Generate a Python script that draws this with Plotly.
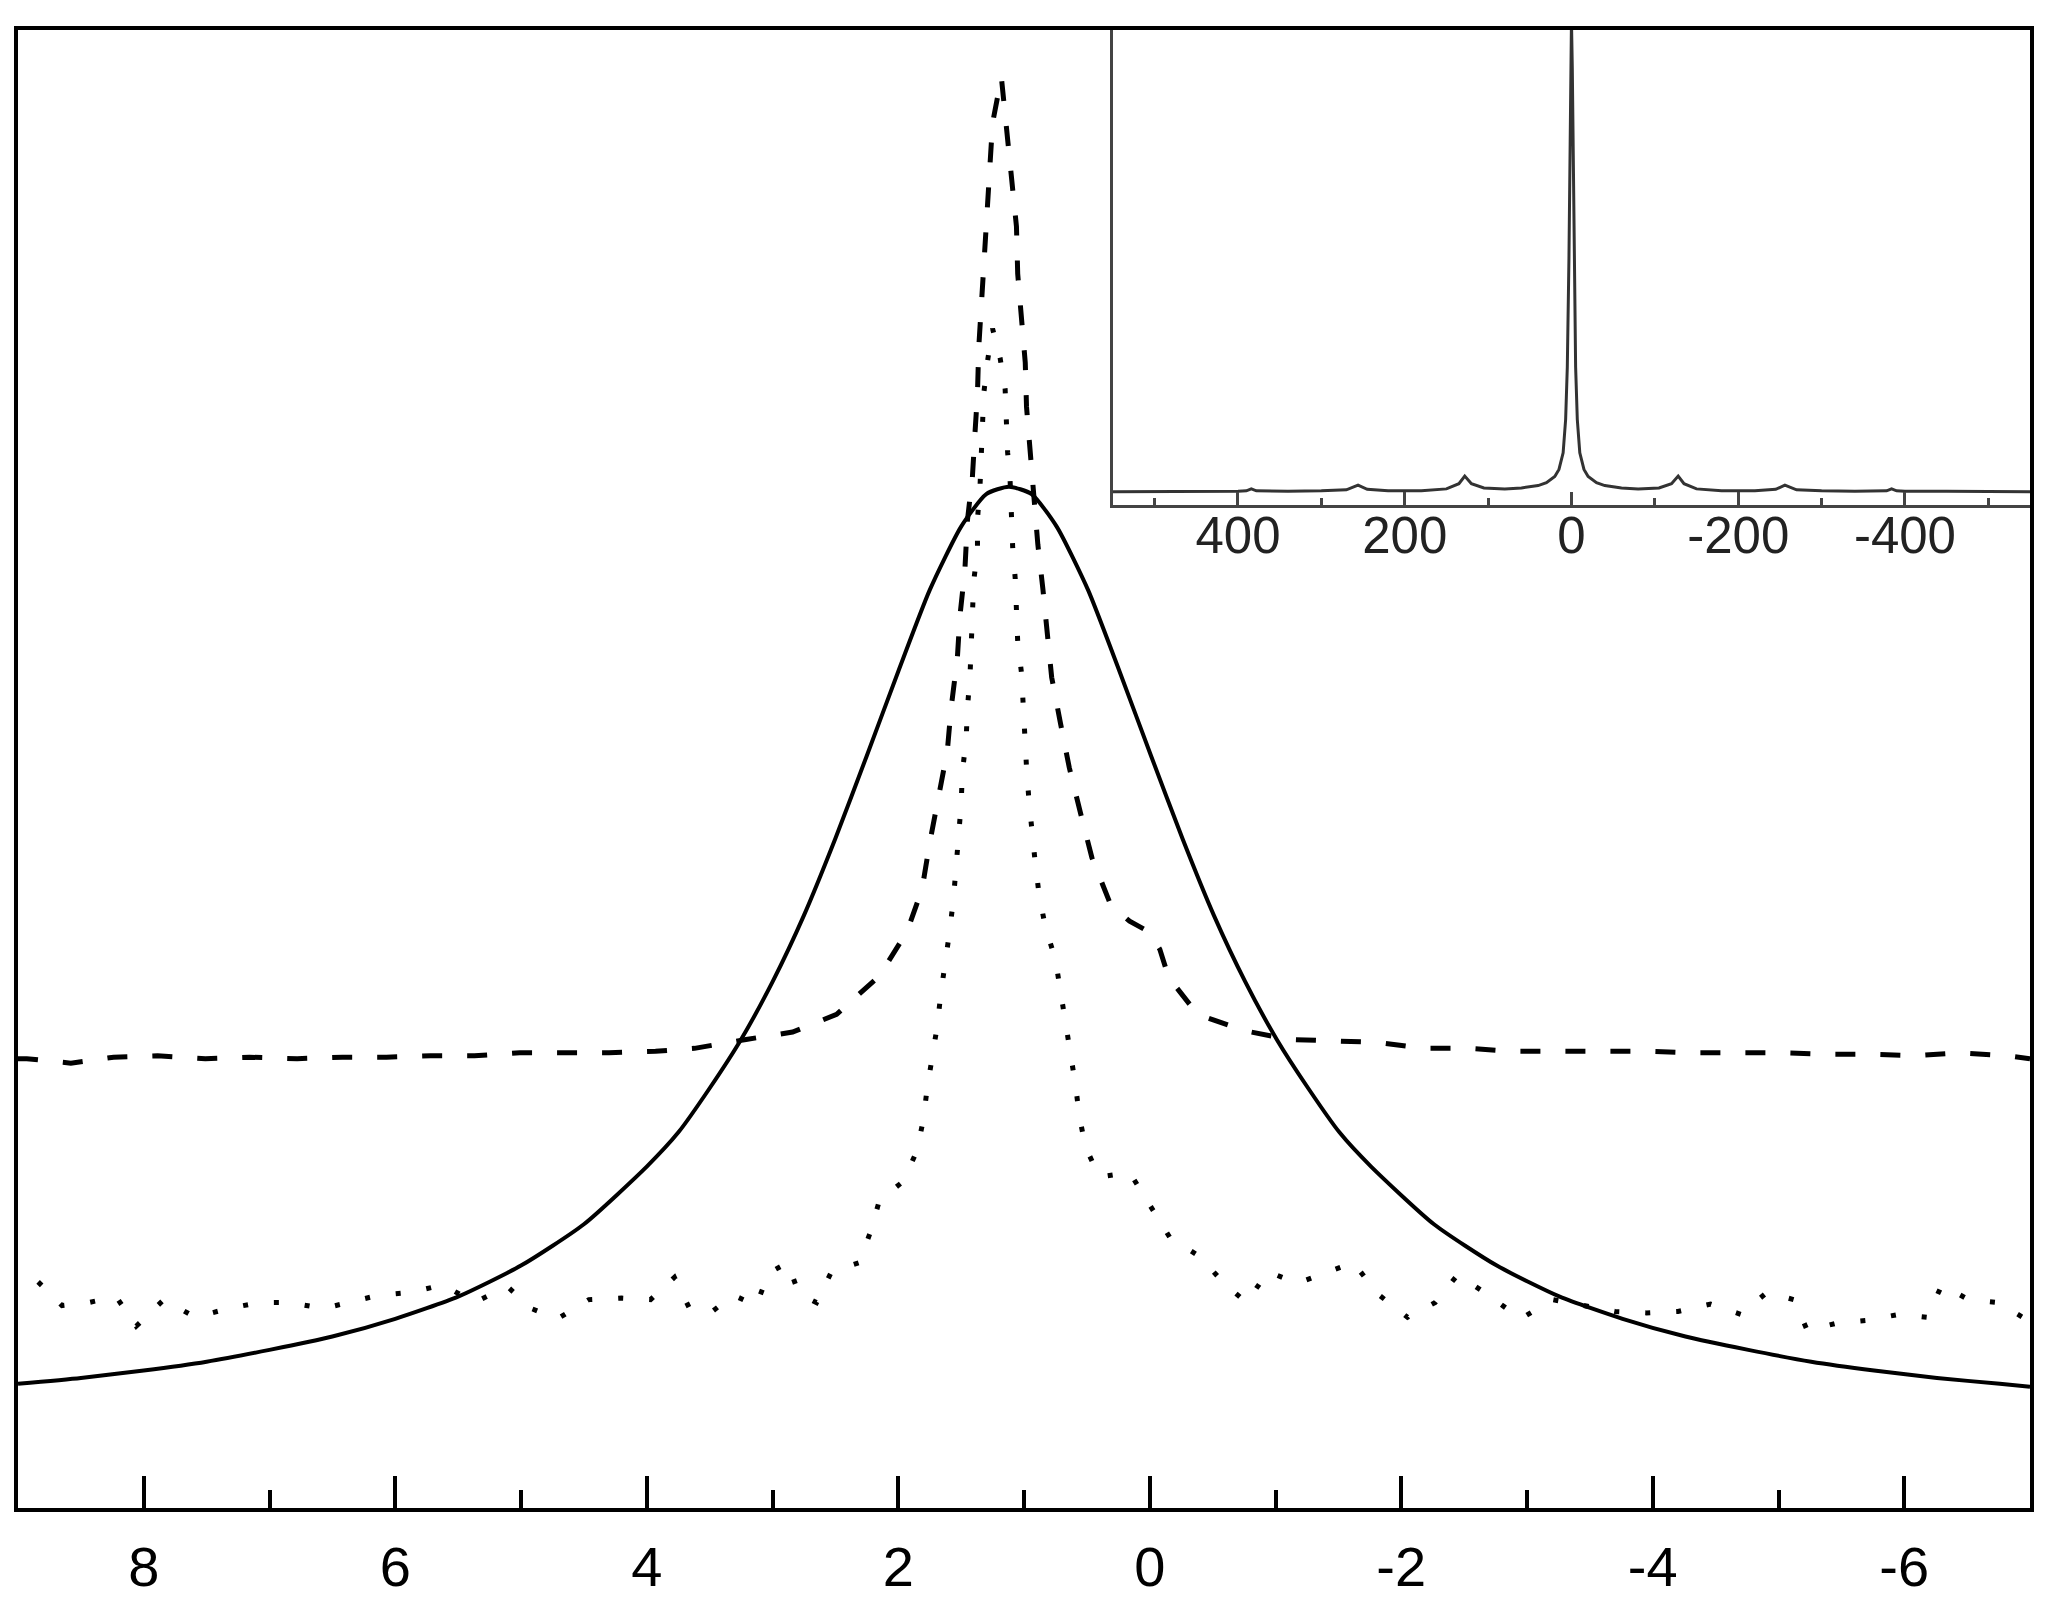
import plotly.graph_objects as go

# ---------------- data ----------------
main_tick_vals = [8, 6, 4, 2, 0, -2, -4, -6]
main_tick_text = ["8", "6", "4", "2", "0", "-2", "-4", "-6"]
main_minor_vals = [7, 5, 3, 1, -1, -3, -5]

inset_tick_vals = [400, 200, 0, -200, -400]
inset_tick_text = ["400", "200", "0", "-200", "-400"]
inset_minor_vals = [500, 300, 100, -100, -300, -500]

# solid curve (broad peak)
solid_x = [9.0, 8.5, 8.0, 7.5, 7.0, 6.5, 6.0, 5.5, 5.0, 4.5,
           4.0, 3.75, 3.5, 3.25, 3.0, 2.75, 2.5, 2.25, 2.0, 1.75,
           1.5, 1.3, 1.12, 0.94, 0.74, 0.49, 0.24, -0.01, -0.26, -0.51,
           -0.76, -1.01, -1.26, -1.51, -1.76, -2.26, -2.76, -3.26, -3.76, -4.26,
           -4.76, -5.26, -5.76, -6.26, -6.76, -7.0]
solid_y = [0.084, 0.088, 0.093, 0.099, 0.107, 0.116, 0.128, 0.143, 0.164, 0.192,
           0.231, 0.254, 0.284, 0.317, 0.356, 0.401, 0.453, 0.509, 0.566, 0.621,
           0.664, 0.686, 0.691, 0.686, 0.664, 0.621, 0.566, 0.509, 0.453, 0.401,
           0.356, 0.317, 0.284, 0.254, 0.231, 0.192, 0.164, 0.143, 0.128, 0.116,
           0.107, 0.099, 0.093, 0.088, 0.084, 0.082]

# dashed curve (tall narrow peak on a raised baseline)
dashed_x = [9.00, 8.93, 8.58, 8.24, 7.89, 7.51, 7.16, 6.78, 6.42, 6.07,
            5.72, 5.37, 5.01, 4.65, 4.30, 3.93, 3.62, 3.21, 2.84, 2.49,
            2.15, 1.93, 1.81, 1.75, 1.68, 1.61, 1.58, 1.53, 1.51, 1.47,
            1.45, 1.41, 1.39, 1.37, 1.36, 1.34, 1.32, 1.30, 1.28, 1.25,
            1.18, 1.13, 1.09, 1.06, 1.05, 1.02, 0.99, 0.98, 0.95, 0.93,
            0.89, 0.85, 0.82, 0.78, 0.71, 0.64, 0.55, 0.46, 0.31, 0.16,
            0.01, -0.08, -0.15, -0.38, -0.75, -1.11, -1.47, -1.81, -2.18, -2.53,
            -2.88, -3.25, -3.60, -3.95, -4.32, -4.67, -5.02, -5.37, -5.72, -6.09,
            -6.44, -6.82, -7.00]
dashed_y = [0.304, 0.304, 0.301, 0.305, 0.306, 0.304, 0.305, 0.304, 0.305, 0.305,
            0.306, 0.306, 0.308, 0.308, 0.308, 0.309, 0.311, 0.317, 0.322, 0.334,
            0.360, 0.390, 0.419, 0.450, 0.481, 0.512, 0.541, 0.575, 0.603, 0.635,
            0.668, 0.698, 0.727, 0.754, 0.785, 0.815, 0.846, 0.876, 0.907, 0.937,
            0.968, 0.927, 0.897, 0.867, 0.835, 0.804, 0.775, 0.745, 0.714, 0.685,
            0.652, 0.622, 0.592, 0.562, 0.531, 0.501, 0.470, 0.440, 0.408, 0.397,
            0.390, 0.378, 0.359, 0.334, 0.323, 0.317, 0.316, 0.315, 0.311, 0.311,
            0.309, 0.309, 0.309, 0.309, 0.308, 0.308, 0.308, 0.307, 0.307, 0.306,
            0.308, 0.306, 0.304]

# dotted curve (noisy baseline, narrow peak)
dotted_x = [8.84, 8.65, 8.44, 8.22, 8.06, 7.84, 7.59, 7.33, 7.08, 6.84,
            6.57, 6.13, 5.87, 5.62, 5.37, 5.11, 4.92, 4.71, 4.46, 4.20,
            3.97, 3.78, 3.66, 3.48, 3.31, 3.13, 3.03, 2.88, 2.79, 2.65,
            2.53, 2.31, 2.22, 2.15, 1.96,
            1.85, 1.80, 1.77, 1.73, 1.69, 1.66, 1.62, 1.59, 1.56, 1.54,
            1.52, 1.50, 1.49, 1.46, 1.45, 1.43, 1.42, 1.41, 1.40, 1.37,
            1.37, 1.35, 1.34, 1.33, 1.32, 1.29, 1.25,
            1.19, 1.15, 1.14, 1.13, 1.11, 1.10, 1.09, 1.07, 1.06, 1.05,
            1.02, 1.01, 0.99, 0.98, 0.96, 0.94, 0.91, 0.88, 0.83, 0.75,
            0.71, 0.67, 0.63, 0.59, 0.56, 0.51, 0.40, 0.16, 0.00, -0.16,
            -0.40, -0.59, -0.77,
            -0.94, -1.17, -1.39, -1.62, -1.81, -2.05, -2.27, -2.45, -2.71, -2.95,
            -3.20, -3.45, -3.70, -3.95, -4.20, -4.46, -4.70, -4.91, -5.12, -5.23,
            -5.46, -5.70, -5.96, -6.18, -6.30, -6.51, -6.75, -6.98]
dotted_y = [0.153, 0.137, 0.139, 0.143, 0.123, 0.141, 0.129, 0.135, 0.139, 0.139,
            0.135, 0.144, 0.146, 0.151, 0.139, 0.150, 0.135, 0.128, 0.141, 0.142,
            0.141, 0.156, 0.135, 0.133, 0.144, 0.137, 0.159, 0.166, 0.145, 0.139,
            0.160, 0.166, 0.187, 0.208, 0.221,
            0.242, 0.263, 0.284, 0.305, 0.326, 0.349, 0.370, 0.391, 0.413, 0.434,
            0.455, 0.476, 0.498, 0.520, 0.541, 0.562, 0.583, 0.605, 0.627, 0.648,
            0.669, 0.691, 0.712, 0.734, 0.754, 0.776, 0.798,
            0.778, 0.757, 0.735, 0.714, 0.694, 0.671, 0.650, 0.629, 0.607, 0.586,
            0.565, 0.544, 0.522, 0.501, 0.478, 0.457, 0.436, 0.415, 0.393, 0.371,
            0.350, 0.329, 0.308, 0.286, 0.265, 0.244, 0.224, 0.227, 0.205, 0.183,
            0.170, 0.152, 0.139,
            0.160, 0.152, 0.159, 0.166, 0.145, 0.129, 0.139, 0.158, 0.143, 0.128,
            0.141, 0.137, 0.133, 0.132, 0.133, 0.138, 0.131, 0.146, 0.141, 0.120,
            0.125, 0.127, 0.131, 0.129, 0.151, 0.141, 0.139, 0.127]

# inset spectrum
inset_x = [550, 500, 450, 400, 390, 384, 378, 340, 300, 270,
           256, 245, 220, 180, 150, 135, 128, 120, 105, 80,
           60, 40, 30, 20, 15, 10, 7, 5, 3, 2,
           1, 0, -1, -2, -3, -5, -7, -10, -15, -20,
           -30, -40, -60, -80, -105, -120, -128, -135, -150, -180,
           -220, -245, -256, -270, -300, -340, -378, -384, -390, -400,
           -450, -500, -550]
inset_y = [0.028, 0.028, 0.029, 0.029, 0.030, 0.034, 0.030, 0.029, 0.030, 0.032,
           0.042, 0.033, 0.030, 0.030, 0.034, 0.045, 0.061, 0.045, 0.036, 0.034,
           0.036, 0.041, 0.047, 0.060, 0.075, 0.110, 0.180, 0.290, 0.520, 0.720,
           0.920, 1.020, 0.920, 0.720, 0.520, 0.290, 0.180, 0.110, 0.075, 0.060,
           0.047, 0.041, 0.036, 0.034, 0.036, 0.045, 0.061, 0.045, 0.034, 0.030,
           0.030, 0.033, 0.042, 0.032, 0.030, 0.029, 0.030, 0.034, 0.030, 0.029,
           0.029, 0.028, 0.028]

# ---------------- figure ----------------
FONT = "Liberation Sans, Arial, Helvetica, sans-serif"

fig = go.Figure()
fig.add_trace(go.Scatter(x=solid_x, y=solid_y, mode="lines",
                         line=dict(color="black", width=4, shape="spline", smoothing=0.6),
                         xaxis="x", yaxis="y", hoverinfo="skip"))
fig.add_trace(go.Scatter(x=dashed_x, y=dashed_y, mode="lines",
                         line=dict(color="black", width=5, dash="20px,25px"),
                         xaxis="x", yaxis="y", hoverinfo="skip"))
fig.add_trace(go.Scatter(x=dotted_x, y=dotted_y, mode="lines",
                         line=dict(color="black", width=5, dash="5px,26px"),
                         xaxis="x", yaxis="y", hoverinfo="skip"))
fig.add_trace(go.Scatter(x=inset_x, y=inset_y, mode="lines",
                         line=dict(color="#333333", width=3),
                         xaxis="x2", yaxis="y2", hoverinfo="skip"))

# page body has an 8px default margin, so the figure is sized to fit inside it
fig.update_layout(
    width=2047, height=1606, autosize=False,
    margin=dict(l=10, r=25, t=22, b=106, pad=0),
    paper_bgcolor="white", plot_bgcolor="white",
    showlegend=False,
    xaxis=dict(
        domain=[0, 1], range=[9, -7], anchor="y",
        tickmode="array", tickvals=main_tick_vals, ticktext=main_tick_text,
        ticks="inside", ticklen=32, tickwidth=4, tickcolor="black",
        minor=dict(tickmode="array", tickvals=main_minor_vals, ticks="inside",
                   ticklen=18, tickwidth=4, tickcolor="black", showgrid=False),
        showline=True, linewidth=4, linecolor="black", mirror=True,
        showgrid=False, zeroline=False,
        tickfont=dict(family=FONT, size=56, color="black"),
        ticklabelstandoff=7,
    ),
    yaxis=dict(
        domain=[0, 1], range=[0, 1], anchor="x",
        showticklabels=False, ticks="",
        showline=True, linewidth=4, linecolor="black", mirror=True,
        showgrid=False, zeroline=False,
    ),
    xaxis2=dict(
        domain=[0.5442, 1], range=[550, -550], anchor="y2",
        tickmode="array", tickvals=inset_tick_vals, ticktext=inset_tick_text,
        ticks="inside", ticklen=13, tickwidth=3, tickcolor="#444444",
        minor=dict(tickmode="array", tickvals=inset_minor_vals, ticks="inside",
                   ticklen=7, tickwidth=3, tickcolor="#444444", showgrid=False),
        showline=True, linewidth=3, linecolor="#444444",
        showgrid=False, zeroline=False,
        tickfont=dict(family=FONT, size=51, color="#222222"),
        ticklabelstandoff=-16,
    ),
    yaxis2=dict(
        domain=[0.6786, 1], range=[0, 1], anchor="x2",
        showticklabels=False, ticks="",
        showline=True, linewidth=3, linecolor="#444444",
        showgrid=False, zeroline=False,
    ),
)

fig.write_html("out.html")
